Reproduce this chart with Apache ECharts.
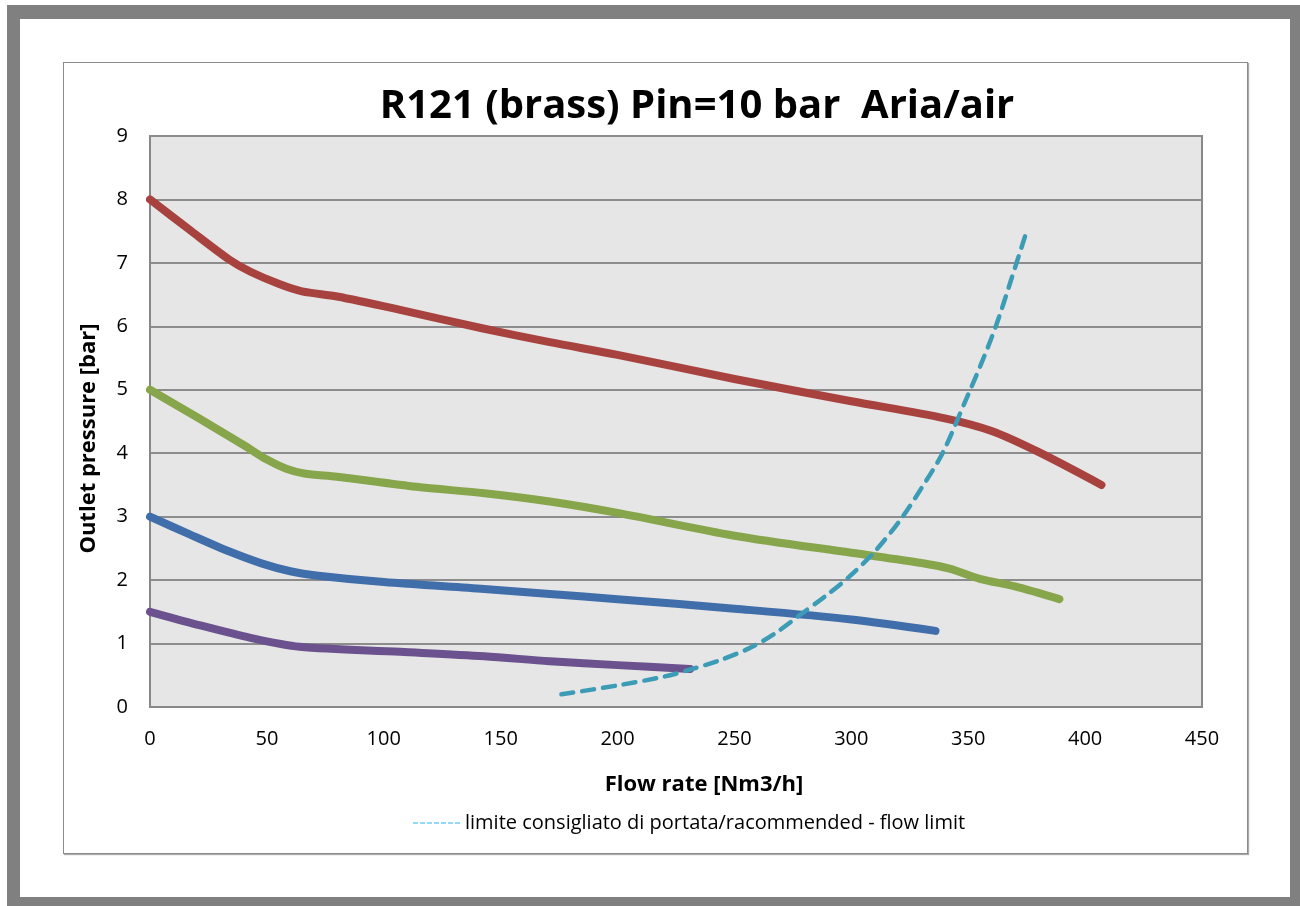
<!DOCTYPE html>
<html>
<head>
<meta charset="utf-8">
<script src="https://cdn.jsdelivr.net/npm/echarts@6/dist/echarts.min.js"></script>
<style>
  html, body { margin: 0; padding: 0; background: #fff; }
  #wrap { position: relative; width: 1300px; height: 906px; overflow: hidden; }
  #frame { position: absolute; left: 7px; top: 5px; width: 1300px; height: 906px; background: #808080; }
  #frameIn { position: absolute; left: 20px; top: 19px; width: 1270px; height: 878px; background: #fff; }
  #box { position: absolute; left: 63px; top: 62px; width: 1183px; height: 790px; border: 1px solid #8c8c8c; box-shadow: 1px 1px 1px #aaa; }
  #LineChart { position: absolute; left: 0; top: 0; width: 1300px; height: 906px; }
</style>
</head>
<body>
<div id="wrap">
  <div id="frame"></div>
  <div id="frameIn"></div>
  <div id="box"></div>
  <div id="LineChart"></div>
</div>
<script>
// data (flow rate Nm3/h, outlet pressure bar)
const xTicks = [0, 50, 100, 150, 200, 250, 300, 350, 400, 450];
const yTicks = [0, 1, 2, 3, 4, 5, 6, 7, 8, 9];
const red8 = [[0, 8], [17, 7.52], [34, 7.05], [43, 6.86], [55, 6.67], [65, 6.55], [80, 6.47], [107, 6.26], [142, 5.97], [171, 5.75], [200, 5.55], [250, 5.17], [300, 4.82], [340, 4.55], [360, 4.35], [380, 4.02], [407, 3.5]];
const green5 = [[0, 5.0], [20, 4.57], [40, 4.13], [50, 3.9], [58, 3.76], [66, 3.68], [80, 3.63], [114, 3.47], [143, 3.37], [171, 3.24], [200, 3.06], [250, 2.7], [300, 2.43], [330, 2.27], [342, 2.18], [355, 2.02], [370, 1.9], [389, 1.7]];
const blue3 = [[0, 3], [17, 2.72], [34, 2.45], [48, 2.26], [60, 2.14], [72, 2.07], [100, 1.97], [143, 1.86], [171, 1.78], [200, 1.7], [250, 1.55], [300, 1.38], [336, 1.2]];
const purple15 = [[0, 1.5], [20, 1.3], [43, 1.09], [64, 0.95], [107, 0.87], [143, 0.8], [171, 0.72], [200, 0.66], [231, 0.6]];
const flowLimit = [[176, 0.2], [200, 0.34], [220, 0.48], [232, 0.6], [244, 0.74], [256, 0.92], [267, 1.15], [278, 1.45], [289, 1.75], [299, 2.05], [310, 2.45], [321, 2.95], [330, 3.45], [339, 4.0], [349, 4.84], [356, 5.45], [362, 6.02], [368.5, 6.75], [375, 7.5]];
const limitName = "limite consigliato di portata/racommended - flow limit";

const font = "'Open Sans', 'DejaVu Sans', sans-serif";
const chart = echarts.init(document.getElementById("LineChart"));

function curve(name, data, color) {
  return {
    name: name,
    type: "line",
    data: data,
    smooth: 0.3,
    symbol: "none",
    lineStyle: { color: color, width: 8, cap: "round", join: "round" },
    itemStyle: { color: color },
    z: 3,
  };
}

// seven short dashes for the legend sample
const dashIcon = "path://M0,0h5v1h-5zM7,0h5v1h-5zM14,0h5v1h-5zM21,0h5v1h-5zM28,0h5v1h-5zM35,0h5v1h-5zM42,0h5v1h-5z";

const options = {
  animation: false,
  backgroundColor: "transparent",
  title: {
    text: "R121 (brass) Pin=10 bar  Aria/air",
    left: 692,
    top: 82,
    textAlign: "center",
    textStyle: { fontFamily: font, fontWeight: "bold", fontSize: 40, color: "#000" },
  },
  grid: {
    left: 150,
    top: 136,
    right: 98,
    bottom: 199,
    show: true,
    backgroundColor: "#e6e6e6",
    borderColor: "#888",
    borderWidth: 2,
  },
  legend: {
    data: [{ name: limitName, icon: dashIcon, itemStyle: { color: "#2eb2f0" } }],
    left: 408,
    top: 808,
    itemWidth: 47,
    itemHeight: 2,
    itemGap: 6,
    itemStyle: { color: "#2eb2f0" },
    textStyle: { fontFamily: font, fontSize: 20, color: "#000" },
  },
  xAxis: {
    type: "value",
    min: xTicks[0],
    max: xTicks[xTicks.length - 1],
    interval: 50,
    name: "Flow rate [Nm3/h]",
    nameLocation: "middle",
    nameGap: 67,
    nameTextStyle: { fontFamily: font, fontWeight: "bold", fontSize: 22, color: "#000", padding: [0, 0, 0, 56] },
    axisLine: { show: true, lineStyle: { color: "#888", width: 2 } },
    axisTick: { show: false },
    splitLine: { show: false },
    axisLabel: { margin: 22, fontFamily: font, fontSize: 20, color: "#000" },
  },
  yAxis: {
    type: "value",
    min: yTicks[0],
    max: yTicks[yTicks.length - 1],
    interval: 1,
    name: "Outlet pressure [bar]",
    nameLocation: "middle",
    nameGap: 50,
    nameTextStyle: { fontFamily: font, fontWeight: "bold", fontSize: 22, color: "#000", padding: [0, 34, 0, 0] },
    axisLine: { show: true, lineStyle: { color: "#888", width: 2 } },
    axisTick: { show: false },
    splitLine: { show: true, lineStyle: { color: "#8c8c8c", width: 2 } },
    axisLabel: { margin: 22, fontFamily: font, fontSize: 20, color: "#000" },
  },
  series: [
    curve("8 bar", red8, "#a8423f"),
    curve("5 bar", green5, "#87a54a"),
    curve("3 bar", blue3, "#406eaa"),
    curve("1.5 bar", purple15, "#6b518d"),
    {
      name: limitName,
      type: "line",
      data: flowLimit,
      smooth: 0.3,
      symbol: "none",
      lineStyle: { color: "#3c9cb5", width: 4.5, type: [12, 9], cap: "round" },
      itemStyle: { color: "#3c9cb5" },
      z: 4,
    },
  ],
};
chart.setOption(options);
</script>
</body>
</html>
